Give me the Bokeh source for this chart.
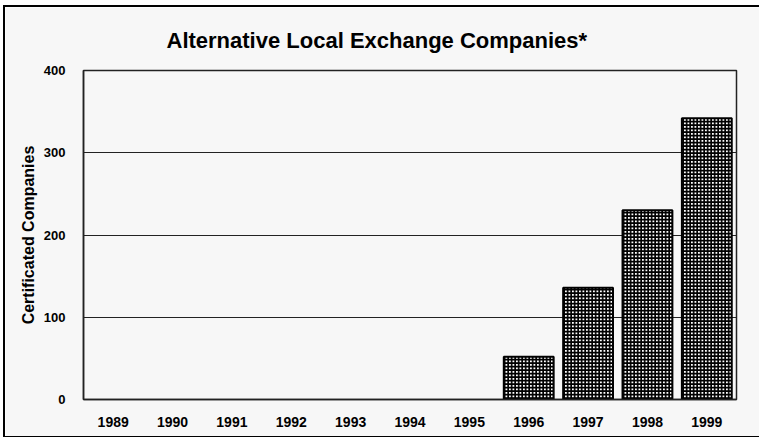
from bokeh.plotting import figure
from bokeh.models import ColumnDataSource, FactorRange, Range1d, Title, FixedTicker
from bokeh.embed import file_html
from bokeh.resources import INLINE

years = ["1989", "1990", "1991", "1992", "1993", "1994", "1995",
         "1996", "1997", "1998", "1999"]
companies = [0, 0, 0, 0, 0, 0, 0, 52, 136, 230, 342]
y_ticks = [0, 100, 200, 300, 400]

title_text = "Alternative Local Exchange Companies*"
y_label_text = "Certificated Companies"

FONT = "Liberation Sans"
BG = "#f7f7f7"

p = figure(x_range=FactorRange(*years, range_padding=0),
           y_range=Range1d(0, 400),
           width=754, height=429,
           frame_width=653, frame_height=329,
           min_border_left=78, min_border_top=59,
           min_border_right=23, min_border_bottom=37,
           output_backend="svg", toolbar_location=None)

p.background_fill_color = BG
p.border_fill_color = BG
p.outline_line_color = "#222222"
p.outline_line_width = 1.5

p.styles = {"border-left": "2px solid black", "border-top": "2px solid black",
            "border-bottom": "1px solid black",
            "margin-left": "3px", "margin-top": "5px"}

bx = [y for y, c in zip(years, companies) if c > 0]
bc = [c for c in companies if c > 0]
src = ColumnDataSource(dict(x=bx, top=bc))
p.vbar(x="x", top="top", width=0.84, source=src,
       fill_color="white", line_color="black", line_width=2,
       hatch_pattern="+", hatch_color="black", hatch_scale=3.5, hatch_weight=1.8)

p.xgrid.grid_line_color = None
p.ygrid.grid_line_color = "#222222"
p.ygrid.grid_line_width = 1.2
p.ygrid.ticker = FixedTicker(ticks=y_ticks)

p.yaxis.ticker = FixedTicker(ticks=y_ticks)
for ax in (p.xaxis[0], p.yaxis[0]):
    ax.major_tick_line_color = None
    ax.minor_tick_line_color = None
    ax.axis_line_color = "#222222"
    ax.axis_line_width = 1.5
    ax.major_label_text_font = FONT
    ax.major_label_text_font_style = "bold"
    ax.major_label_text_color = "black"
p.yaxis.major_label_text_font_size = "13px"
p.yaxis.major_label_standoff = 12
p.xaxis.major_label_text_font_size = "14px"
p.xaxis.major_label_standoff = 11

p.title = Title(text=title_text, align="left", offset=83, standoff=36,
                text_font=FONT, text_font_style="bold", text_font_size="22px",
                text_color="black")
p.add_layout(Title(text=y_label_text, align="center", standoff=8,
                   text_font=FONT, text_font_style="bold", text_font_size="16px",
                   text_color="black"), "left")

open("out.html", "w").write(file_html(p, INLINE))
